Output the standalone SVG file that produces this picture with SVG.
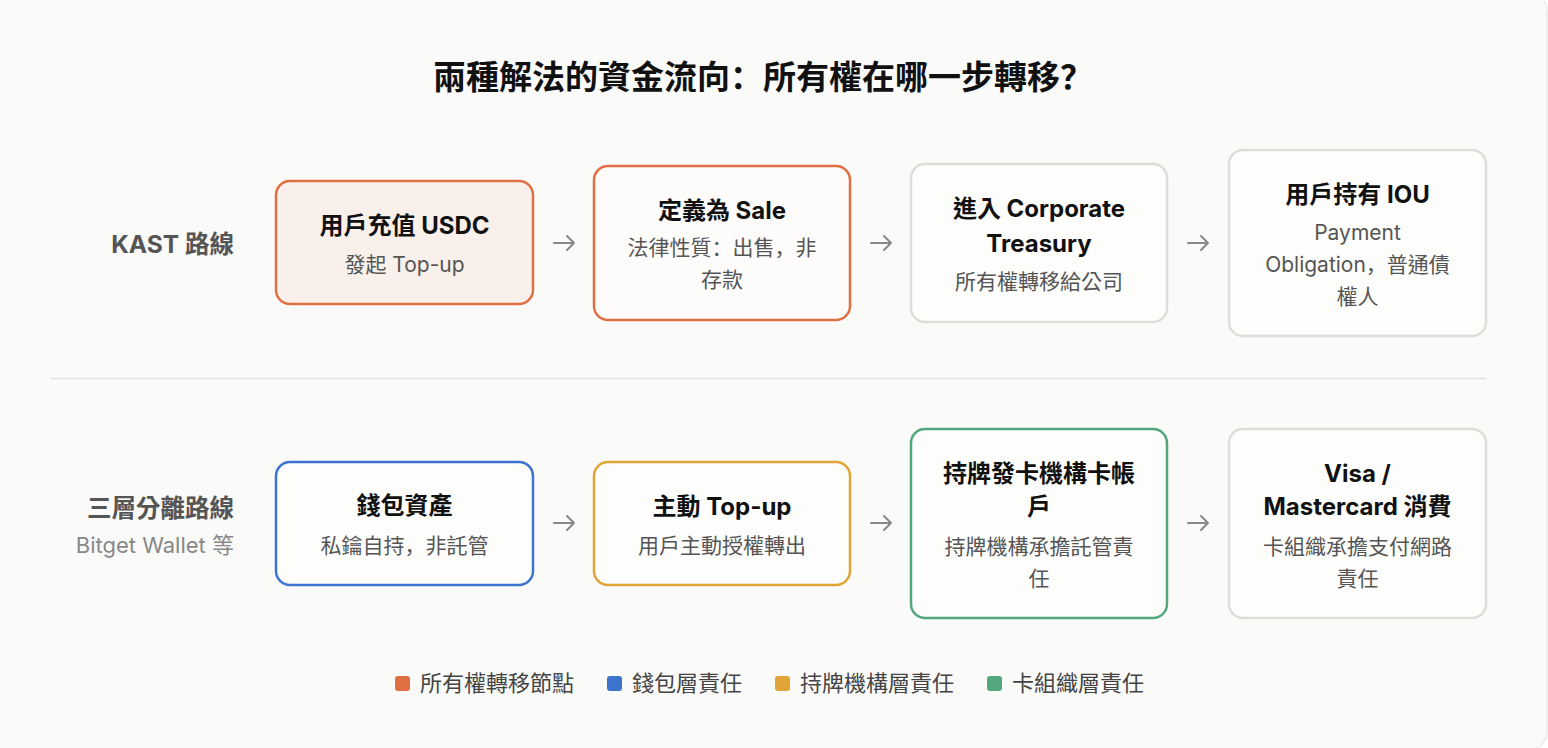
<svg xmlns="http://www.w3.org/2000/svg" width="1548" height="748" viewBox="0 0 1548 748">
<defs>
<style>
text{font-family:"Inter","Noto Sans CJK TC","Noto Sans CJK SC",sans-serif;}
.c{font-family:"Noto Sans CJK SC","Noto Sans CJK TC",sans-serif;}
.ttl{font-size:33px;font-weight:700;fill:#111;text-anchor:middle;}
.row{font-size:24.5px;font-weight:700;fill:#555;text-anchor:end;}
.rowsub{font-size:22px;fill:#888;text-anchor:end;}
.nt{font-size:24px;font-weight:700;fill:#111;text-anchor:middle;}
.ns{font-size:21px;fill:#555;text-anchor:middle;}
.box{stroke-width:2.5;}
.own{fill:#fdfcfb;stroke:#e07043;}
.ownfill{fill:#f9f0eb;stroke:#e07043;}
.plain{fill:#fdfdfc;stroke:#deded9;}
.blue{fill:#fdfdfc;stroke:#3d74d0;}
.gold{fill:#fdfdfc;stroke:#e1a537;}
.green{fill:#fdfdfc;stroke:#52a87c;}
.arr{stroke:#888;stroke-width:2;fill:none;stroke-linecap:round;stroke-linejoin:round;}
.lg{font-size:22px;fill:#444;}
</style>
</defs>
<rect x="-20" y="-6" width="1567" height="755" rx="16" fill="#fafaf9" stroke="#e2e2de" stroke-width="1"/>
<text class="ttl" x="763" y="89">兩種解法的資金流向<tspan class="c">：</tspan>所有權在哪一步轉移<tspan class="c">？</tspan></text>

<g id="row1-label"><text class="row" x="234" y="252.5">KAST 路線</text></g>
<g id="row2-label"><text class="row" x="234" y="516.5">三層分離路線</text><text class="rowsub" x="234" y="553">Bitget Wallet 等</text></g>

<line x1="51" y1="378.5" x2="1486" y2="378.5" stroke="#e0e0da" stroke-width="1.5"/>

<g id="n1"><rect class="box ownfill" x="276" y="181" width="257" height="123" rx="14"/>
<text class="nt" x="404.5" y="233.5">用戶充值 USDC</text><text class="ns" x="404.5" y="271.5">發起 Top-up</text></g>
<g id="n2"><rect class="box own" x="594" y="166" width="256" height="154" rx="14"/>
<text class="nt" x="722" y="218.5">定義為 Sale</text><text class="ns" x="722" y="254.5">法律性質<tspan class="c">：</tspan>出售<tspan class="c">，</tspan>非</text><text class="ns" x="722" y="286.5">存款</text></g>
<g id="n3"><rect class="box plain" x="911" y="164" width="256" height="158" rx="14"/>
<text class="nt" x="1039" y="216.5">進入 Corporate</text><text class="nt" x="1039" y="251.5">Treasury</text><text class="ns" x="1039" y="288.5">所有權轉移給公司</text></g>
<g id="n4"><rect class="box plain" x="1229" y="150" width="257" height="186" rx="14"/>
<text class="nt" x="1357.5" y="202.5">用戶持有 IOU</text><text class="ns" x="1357.5" y="239.5">Payment</text><text class="ns" x="1357.5" y="271.5">Obligation<tspan class="c">，</tspan>普通債</text><text class="ns" x="1357.5" y="303.5">權人</text></g>

<g id="n5"><rect class="box blue" x="276" y="462" width="257" height="123" rx="14"/>
<text class="nt" x="404.5" y="513.5">錢包資產</text><text class="ns" x="404.5" y="552.5">私鑰自持<tspan class="c">，</tspan>非託管</text></g>
<g id="n6"><rect class="box gold" x="594" y="462" width="256" height="123" rx="14"/>
<text class="nt" x="722" y="514.5">主動 Top-up</text><text class="ns" x="722" y="552.5">用戶主動授權轉出</text></g>
<g id="n7"><rect class="box green" x="911" y="429" width="256" height="189" rx="14"/>
<text class="nt" x="1039" y="481.5">持牌發卡機構卡帳</text><text class="nt" x="1039" y="514.5">戶</text><text class="ns" x="1039" y="553.5">持牌機構承擔託管責</text><text class="ns" x="1039" y="585.5">任</text></g>
<g id="n8"><rect class="box plain" x="1229" y="429" width="257" height="189" rx="14"/>
<text class="nt" x="1357.5" y="481.5">Visa /</text><text class="nt" x="1357.5" y="514.5">Mastercard 消費</text><text class="ns" x="1357.5" y="553.5">卡組織承擔支付網路</text><text class="ns" x="1357.5" y="585.5">責任</text></g>

<g id="connectors">
<path class="arr" d="M554 243H574M567 236L574 243L567 250"/>
<path class="arr" d="M871 243H891M884 236L891 243L884 250"/>
<path class="arr" d="M1188 243H1208M1201 236L1208 243L1201 250"/>
<path class="arr" d="M554 523H574M567 516L574 523L567 530"/>
<path class="arr" d="M871 523H891M884 516L891 523L884 530"/>
<path class="arr" d="M1188 523H1208M1201 516L1208 523L1201 530"/>
</g>

<g id="legend">
<rect x="395" y="676" width="15" height="15" rx="3" fill="#e07043"/><text class="lg" x="420" y="691">所有權轉移節點</text>
<rect x="607" y="676" width="15" height="15" rx="3" fill="#3d74d0"/><text class="lg" x="632" y="691">錢包層責任</text>
<rect x="775" y="676" width="15" height="15" rx="3" fill="#e1a537"/><text class="lg" x="800" y="691">持牌機構層責任</text>
<rect x="987" y="676" width="15" height="15" rx="3" fill="#52a87c"/><text class="lg" x="1012" y="691">卡組織層責任</text>
</g>
</svg>
